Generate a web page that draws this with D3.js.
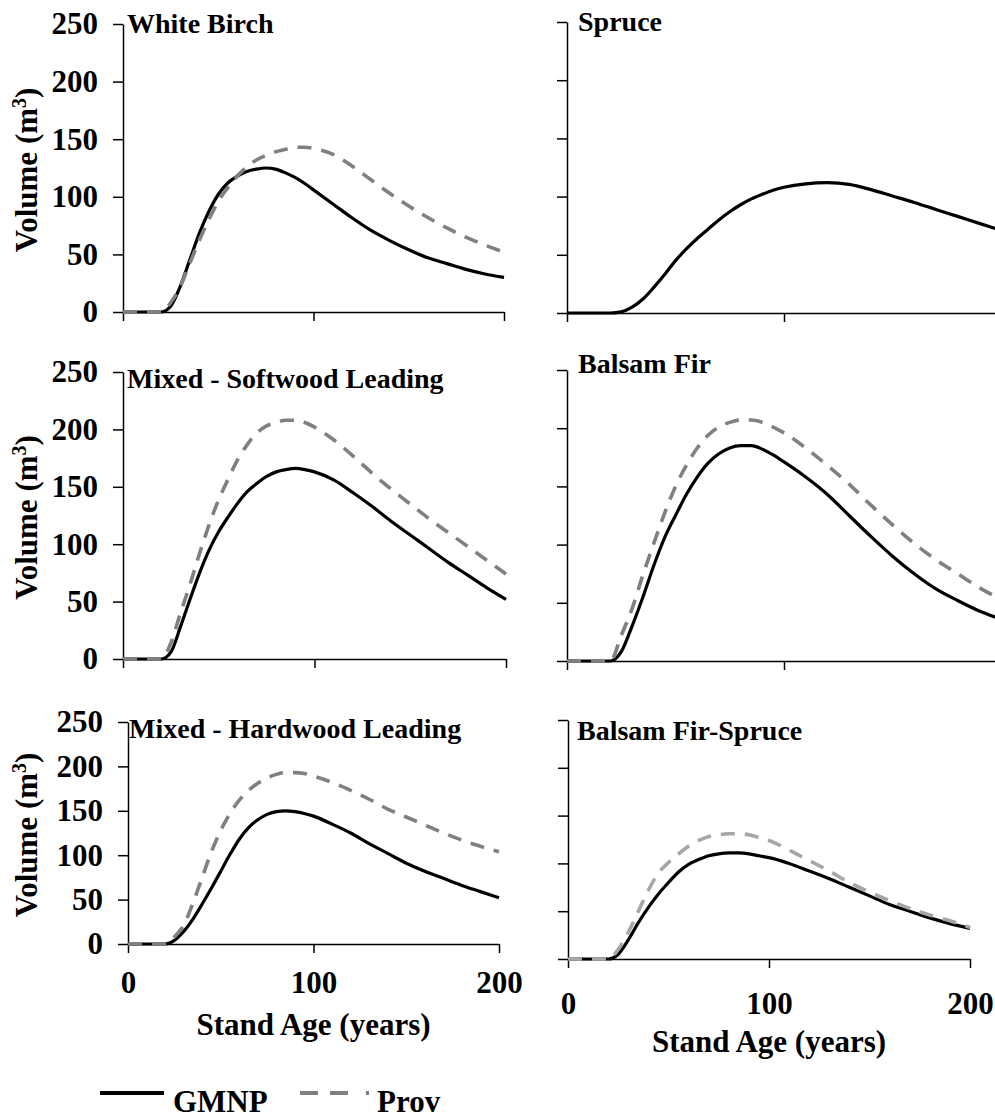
<!DOCTYPE html>
<html>
<head>
<meta charset="utf-8">
<script src="https://cdn.jsdelivr.net/npm/d3@7"></script>
<style>
  html, body { margin: 0; padding: 0; background: #fff; overflow: hidden; }
  svg text { font-family: "Liberation Serif", "Times New Roman", serif; font-weight: bold; fill: #000; }
</style>
</head>
<body>
<svg id="chart" width="995" height="1118"></svg>
<script>
// stand age (years) shared by every curve
const ages = [0, 10, 20, 25, 30, 35, 40, 45, 50, 55, 60, 65, 70, 75, 80, 85, 90, 95, 100,
              110, 120, 130, 140, 150, 160, 170, 180, 190, 200];

// volume (m3)
const birchGmnp = [0, 0, 0, 5, 22, 45, 68, 87, 102, 112, 118, 122, 124, 125, 124, 121, 117, 112, 106,
                   94, 82, 71, 62, 54, 47, 42, 37, 33, 30];
const birchProv = [0, 0, 0, 8, 22, 42, 62, 80, 96, 108, 118, 126, 132, 136, 139, 141, 143, 143, 142,
                   137, 127, 115, 103, 92, 82, 73, 65, 58, 52];
const spruceGmnp = [0, 0, 0, 1, 5, 12, 22, 33, 45, 55, 64, 72, 80, 87, 93, 98, 102, 105.5, 108,
                    111, 112, 110.5, 106, 100.5, 95, 89, 83, 77, 71];
const softGmnp = [0, 0, 0, 6, 28, 52, 75, 95, 111, 124, 136, 146, 153, 159, 163, 165, 166, 165, 163,
                  156, 145, 133, 120, 108, 96, 84, 73, 62, 52];
const softProv = [0, 0, 0, 14, 40, 65, 92, 117, 139, 157, 174, 187, 197, 203, 206, 208, 208, 206, 202,
                  191, 177, 162, 148, 135, 122, 110, 98, 86, 74];
const firGmnp = [0, 0, 0, 8, 30, 55, 82, 106, 125, 143, 158, 170, 178, 183, 185, 185, 182, 177, 171,
                 158, 143, 125, 107, 90, 75, 62, 52, 43, 36];
const firProv = [0, 0, 0, 22, 45, 74, 101, 127, 150, 168, 183, 194, 201, 205, 207, 207, 205, 201, 196,
                 183, 168, 152, 134, 117, 101, 87, 75, 63, 53];
const hardGmnp = [0, 0, 0, 4, 14, 28, 45, 63, 82, 101, 118, 131, 140, 146, 149, 150, 149, 147, 144,
                  135, 125, 113, 102, 91, 82, 74, 66, 59, 52];
const hardProv = [0, 0, 0, 8, 21, 46, 75, 104, 128, 147, 162, 173, 181, 187, 191, 193, 193, 192, 189,
                  182, 173, 163, 152, 143, 134, 125, 117, 110, 104];
const firSpruceGmnp = [0, 0, 0, 5, 20, 38, 54, 68, 80, 91, 99, 104, 108, 110, 111, 111, 110, 108, 106,
                       100, 92, 84, 75, 66, 57, 50, 43, 37, 32];
const firSpruceProv = [0, 0, 0, 10, 28, 50, 72, 90, 101, 110, 118, 124, 128, 130, 131, 131, 130, 127, 124,
                       114, 103, 92, 80, 70, 61, 53, 46, 40, 33];

const panelTitles = ["White Birch", "Spruce", "Mixed - Softwood Leading", "Balsam Fir",
                     "Mixed - Hardwood Leading", "Balsam Fir-Spruce"];
const gmnpSeries = [birchGmnp, spruceGmnp, softGmnp, firGmnp, hardGmnp, firSpruceGmnp];
const provSeries = [birchProv, null, softProv, firProv, hardProv, firSpruceProv];
const yTicks = [0, 50, 100, 150, 200, 250];
const xTicks = [0, 100, 200];
const legendNames = ["GMNP", "Prov"];

// each panel was pasted in separately, so each gets its own frame
const frames = [
  { x0: 123, x1: 504, yTop: 24, y0: 312, tx: 127, ty: 33, left: true, bottom: false, prov: "#808080" },
  { x0: 567, x1: 1001, yTop: 22, y0: 313, tx: 578, ty: 31, left: false, bottom: false, prov: "#808080" },
  { x0: 123, x1: 506, yTop: 372, y0: 659, tx: 127, ty: 388, left: true, bottom: false, prov: "#808080" },
  { x0: 567, x1: 1001, yTop: 370, y0: 661, tx: 578, ty: 373, left: false, bottom: false, prov: "#808080" },
  { x0: 128, x1: 499, yTop: 722, y0: 944, tx: 129, ty: 738, left: true, bottom: true, prov: "#808080", lx: 993, ax: 1035 },
  { x0: 568, x1: 970, yTop: 720, y0: 959, tx: 577, ty: 740, left: false, bottom: true, prov: "#a6a6a6", lx: 1014, ax: 1052 }
];

const svg = d3.select("#chart");

frames.forEach((f, i) => {
  const x = d3.scaleLinear().domain([0, 200]).range([f.x0, f.x1]);
  const y = d3.scaleLinear().domain([0, 250]).range([f.y0, f.yTop]);
  const g = svg.append("g");

  // y axis
  const yAxis = d3.axisLeft(y).tickValues(yTicks).tickSize(10).tickSizeOuter(0)
    .tickFormat(f.left ? d3.format("d") : "");
  g.append("g").attr("transform", `translate(${f.x0},0)`).call(yAxis)
    .call(a => a.select(".domain").attr("stroke", "#000").attr("stroke-width", 1.5))
    .call(a => a.selectAll(".tick line").attr("stroke", "#000").attr("stroke-width", 1.5))
    .call(a => a.selectAll(".tick text").attr("x", -25).attr("font-size", 31)
      .attr("font-family", "Liberation Serif, serif").attr("font-weight", "bold"));

  // x axis
  const xAxis = d3.axisBottom(x).tickValues(xTicks).tickSize(9).tickSizeOuter(0)
    .tickFormat(f.bottom ? d3.format("d") : "");
  const xg = g.append("g").attr("transform", `translate(0,${f.y0})`).call(xAxis)
    .call(a => a.select(".domain").attr("stroke", "#000").attr("stroke-width", 1.5))
    .call(a => a.selectAll(".tick line").attr("stroke", "#000").attr("stroke-width", 1.5));
  if (f.bottom) {
    xg.selectAll(".tick text").attr("y", f.lx - f.y0).attr("dy", 0).attr("font-size", 31)
      .attr("font-family", "Liberation Serif, serif").attr("font-weight", "bold");
    g.append("text").attr("x", (f.x0 + f.x1) / 2).attr("y", f.ax)
      .attr("text-anchor", "middle").attr("font-size", 31).text("Stand Age (years)");
  }

  if (f.left) {
    const cy = (f.yTop + f.y0) / 2 + 2;
    const t = g.append("text").attr("transform", `translate(37,${cy}) rotate(-90)`)
      .attr("text-anchor", "middle").attr("font-size", 31);
    t.append("tspan").text("Volume (m");
    t.append("tspan").attr("font-size", 20).attr("dy", -11).text("3");
    t.append("tspan").attr("dy", 11).text(")");
  }

  g.append("text").attr("x", f.tx).attr("y", f.ty).attr("font-size", 28).text(panelTitles[i]);

  const line = d3.line()
    .x(d => x(d[0]))
    .y(d => y(d[1]))
    .curve(d3.curveMonotoneX);

  g.append("path").datum(d3.zip(ages, gmnpSeries[i]))
    .attr("d", line).attr("fill", "none").attr("stroke", "#000").attr("stroke-width", 3.2);

  if (provSeries[i]) {
    g.append("path").datum(d3.zip(ages, provSeries[i]))
      .attr("d", line).attr("fill", "none").attr("stroke", f.prov).attr("stroke-width", 3.6)
      .attr("stroke-dasharray", "14,10");
  }
});

// legend
const leg = svg.append("g");
leg.append("line").attr("x1", 100).attr("x2", 164).attr("y1", 1093).attr("y2", 1093)
  .attr("stroke", "#000").attr("stroke-width", 4);
leg.append("text").attr("x", 173).attr("y", 1112).attr("font-size", 31).text(legendNames[0]);
leg.append("line").attr("x1", 300).attr("x2", 369).attr("y1", 1093).attr("y2", 1093)
  .attr("stroke", "#808080").attr("stroke-width", 4).attr("stroke-dasharray", "18,12,18,18,3");
leg.append("text").attr("x", 377).attr("y", 1112).attr("font-size", 31).text(legendNames[1]);
</script>
</body>
</html>
